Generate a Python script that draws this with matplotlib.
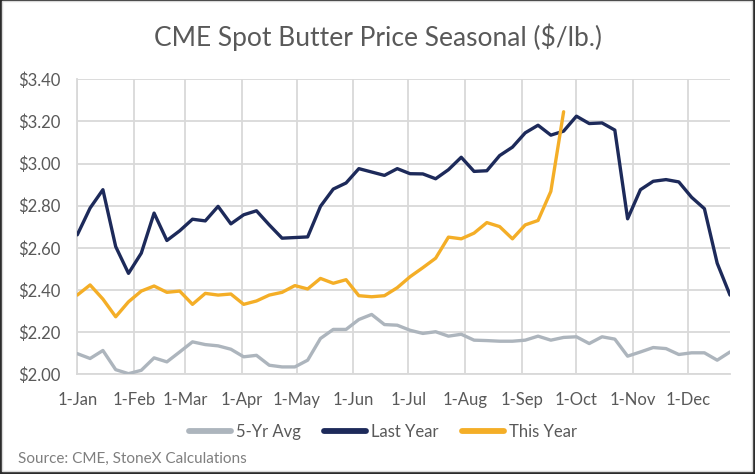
import matplotlib
matplotlib.use("Agg")
import matplotlib.pyplot as plt
import matplotlib.dates as mdates
import matplotlib.patches as mpatches
import pandas as pd

# ---- data ----
week_start = "2023-01-01"
n_weeks = 52
tick_dates = ["2023-01-01", "2023-02-01", "2023-03-01", "2023-04-01", "2023-05-01", "2023-06-01",
              "2023-07-01", "2023-08-01", "2023-09-01", "2023-10-01", "2023-11-01", "2023-12-01"]
tick_labels = ["1-Jan", "1-Feb", "1-Mar", "1-Apr", "1-May", "1-Jun",
               "1-Jul", "1-Aug", "1-Sep", "1-Oct", "1-Nov", "1-Dec"]
y_ticks = [2.00, 2.20, 2.40, 2.60, 2.80, 3.00, 3.20, 3.40]

avg5 = [2.098, 2.075, 2.113, 2.022, 2.003, 2.019, 2.078, 2.059, 2.106, 2.154,
        2.141, 2.135, 2.119, 2.083, 2.090, 2.043, 2.035, 2.035, 2.067, 2.170,
        2.213, 2.213, 2.260, 2.284, 2.236, 2.233, 2.209, 2.194, 2.202, 2.181,
        2.190, 2.162, 2.160, 2.157, 2.157, 2.162, 2.181, 2.162, 2.175, 2.178,
        2.146, 2.178, 2.167, 2.086, 2.106, 2.127, 2.122, 2.094, 2.102, 2.102,
        2.067, 2.106]
last_year = [2.662, 2.789, 2.876, 2.606, 2.479, 2.575, 2.765, 2.635, 2.681, 2.736,
             2.728, 2.797, 2.714, 2.757, 2.776, 2.709, 2.646, 2.649, 2.652, 2.797,
             2.879, 2.908, 2.976, 2.960, 2.944, 2.976, 2.952, 2.951, 2.928, 2.971,
             3.030, 2.963, 2.966, 3.038, 3.078, 3.146, 3.182, 3.135, 3.154, 3.225,
             3.190, 3.193, 3.159, 2.738, 2.876, 2.916, 2.924, 2.913, 2.840, 2.786,
             2.527, 2.376]
this_year = [2.376, 2.424, 2.357, 2.273, 2.344, 2.395, 2.419, 2.389, 2.395, 2.332,
             2.384, 2.376, 2.381, 2.332, 2.348, 2.376, 2.389, 2.421, 2.405, 2.455,
             2.432, 2.449, 2.373, 2.368, 2.373, 2.411, 2.463, 2.506, 2.551, 2.651,
             2.643, 2.670, 2.720, 2.701, 2.643, 2.709, 2.730, 2.868, 3.246]

series_names = ["5-Yr Avg", "Last Year", "This Year"]
colors = ["#ADB5BD", "#1D2A5A", "#F4AE27"]

title = "CME Spot Butter Price Seasonal ($/lb.)"
source = "Source: CME, StoneX Calculations"

# ---- figure ----
W, H = 755, 474
plt.rcParams['font.family'] = ['Lato', 'DejaVu Sans']
fig = plt.figure(figsize=(W / 100, H / 100), dpi=100, facecolor="#2B2B2B")
# white chart area with thin light border
fig.patches.append(mpatches.Rectangle((2 / W, 1 - 471 / H), 750 / W, 470 / H,
                                      transform=fig.transFigure, facecolor="white",
                                      edgecolor="#D9D9D9", linewidth=1.0, zorder=-10))

ax = fig.add_axes([77.3 / W, 1 - 374.3 / H, (730 - 77.3) / W, (374.3 - 79.3) / H])
ax.set_facecolor("none")

dates = pd.date_range(week_start, periods=n_weeks, freq="7D")
data = [avg5, last_year, this_year]
lines = []
for name, vals, c in zip(series_names, data, colors):
    ln, = ax.plot(dates[:len(vals)], vals, color=c, linewidth=2.4, label=name,
                  solid_joinstyle="round", solid_capstyle="round", zorder=3)
    lines.append(ln)

ax.set_xlim(dates[0], dates[-1])
ax.set_ylim(y_ticks[0], y_ticks[-1])
ax.set_yticks(y_ticks)
ax.set_yticklabels([f"${v:.2f}" for v in y_ticks])
ax.set_xticks(pd.to_datetime(tick_dates))
ax.set_xticklabels(tick_labels)

grid_c = "#D9D9D9"
ax.grid(True, color=grid_c, linewidth=1.3, zorder=0)
ax.set_axisbelow(True)
for s in ["top", "right"]:
    ax.spines[s].set_visible(False)
for s in ["left", "bottom"]:
    ax.spines[s].set_color(grid_c)
    ax.spines[s].set_linewidth(1.3)

ax.tick_params(axis="y", length=0, pad=12, labelsize=12, labelcolor="#595959")
ax.tick_params(axis="x", length=0, pad=13, labelsize=12, labelcolor="#595959")

fig.text(378 / W, 1 - 37 / H, title, ha="center", va="center", fontsize=19, color="#595959")
fig.text(18 / W, 1 - 459 / H, source, ha="left", va="center", fontsize=11, color="#7F7F7F")

leg = fig.legend(handles=lines, loc="center", bbox_to_anchor=(383 / W, 1 - 432 / H), ncol=3,
                 frameon=False, fontsize=12, handlelength=2.5, handletextpad=0.3,
                 columnspacing=1.4, labelcolor="#595959")
for h in leg.legend_handles:
    h.set_linewidth(4.2)
    h.set_solid_capstyle("round")

fig.savefig("out.png", dpi=100, facecolor=fig.get_facecolor())
